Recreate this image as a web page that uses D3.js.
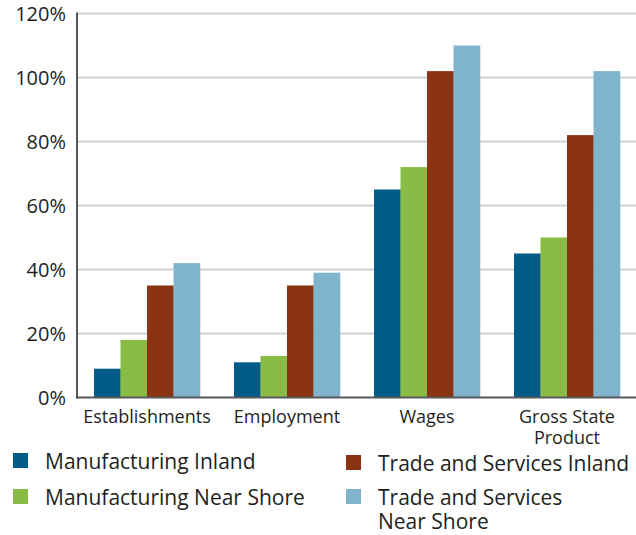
<!DOCTYPE html>
<html>
<head>
<meta charset="utf-8">
<script src="https://cdn.jsdelivr.net/npm/d3@7"></script>
<style>
  body { margin: 0; background: #fff; }
  text { font-family: "Open Sans", sans-serif; fill: #231f20; }
</style>
</head>
<body>
<div id="vis"></div>
<script>
const categories = [["Establishments"], ["Employment"], ["Wages"], ["Gross State", "Product"]];
const seriesNames = ["Manufacturing Inland", "Manufacturing Near Shore", "Trade and Services Inland", "Trade and Services Near Shore"];
const seriesColors = ["#005b87", "#88bc45", "#8b3413", "#80b4cd"];
const mfgInland = [9, 11, 65, 45];
const mfgNearShore = [18, 13, 72, 50];
const tradeInland = [35, 35, 102, 82];
const tradeNearShore = [42, 39, 110, 102];
const yTicks = [0, 20, 40, 60, 80, 100, 120];

const series = [mfgInland, mfgNearShore, tradeInland, tradeNearShore];
const W = 636, H = 535;
const plotLeft = 77, plotRight = 637, plotTop = 13.5, plotBottom = 397.5;

const svg = d3.select("#vis").append("svg")
  .attr("width", W).attr("height", H);

const x = d3.scaleBand()
  .domain(d3.range(categories.length))
  .range([plotLeft, plotRight])
  .paddingInner(0.243)
  .paddingOuter(0.1215);

const xs = d3.scaleBand()
  .domain(d3.range(series.length))
  .range([0, x.bandwidth()]);

const y = d3.scaleLinear().domain([0, 120]).range([plotBottom, plotTop]);

// gridlines
svg.append("g").selectAll("line")
  .data(yTicks.filter(d => d > 0))
  .join("line")
  .attr("x1", plotLeft).attr("x2", W)
  .attr("y1", d => y(d)).attr("y2", d => y(d))
  .attr("stroke", "#cfd1d0").attr("stroke-width", 2);

// y tick labels
svg.append("g").selectAll("text")
  .data(yTicks)
  .join("text")
  .attr("x", 66).attr("y", d => y(d))
  .attr("dy", "0.36em")
  .attr("text-anchor", "end")
  .style("font-size", "20px")
  .text(d => d + "%");

// bars
svg.append("g").selectAll("g")
  .data(series)
  .join("g")
  .attr("fill", (d, i) => seriesColors[i])
  .each(function(vals, si) {
    d3.select(this).selectAll("rect")
      .data(vals)
      .join("rect")
      .attr("x", (v, ci) => x(ci) + xs(si))
      .attr("width", xs.bandwidth() + 0.3)
      .attr("y", v => y(v))
      .attr("height", v => y(0) - y(v));
  });

// axis lines
svg.append("line")
  .attr("x1", plotLeft).attr("x2", W).attr("y1", plotBottom).attr("y2", plotBottom)
  .attr("stroke", "#58595b").attr("stroke-width", 2);
svg.append("line")
  .attr("x1", plotLeft).attr("x2", plotLeft).attr("y1", plotTop - 1).attr("y2", plotBottom + 1)
  .attr("stroke", "#231f20").attr("stroke-width", 1.5);

// category labels
svg.append("g").selectAll("text")
  .data(categories)
  .join("text")
  .attr("x", (d, i) => x(i) + x.bandwidth() / 2)
  .attr("y", 423)
  .attr("text-anchor", "middle")
  .style("font-size", "18px")
  .each(function(lines) {
    const cx = d3.select(this).attr("x");
    d3.select(this).selectAll("tspan")
      .data(lines)
      .join("tspan")
      .attr("x", cx)
      .attr("dy", (d, i) => i === 0 ? 0 : 21)
      .text(d => d);
  });

// legend
const legendPos = [[13, 453], [346, 455], [13, 489], [346, 489]];
const legendOrder = [0, 2, 1, 3];
const legend = svg.append("g");
legendOrder.forEach((si, k) => {
  const [lx, ly] = legendPos[k];
  const g = legend.append("g").attr("transform", `translate(${lx},${ly})`);
  g.append("rect").attr("width", 15).attr("height", 15).attr("fill", seriesColors[si]);
  const lines = si === 3 ? ["Trade and Services", "Near Shore"] : [seriesNames[si]];
  lines.forEach((line, li) => {
    g.append("text")
      .attr("x", 32).attr("y", 16 + li * 24)
      .style("font-size", "21px")
      .text(line);
  });
});
</script>
</body>
</html>
